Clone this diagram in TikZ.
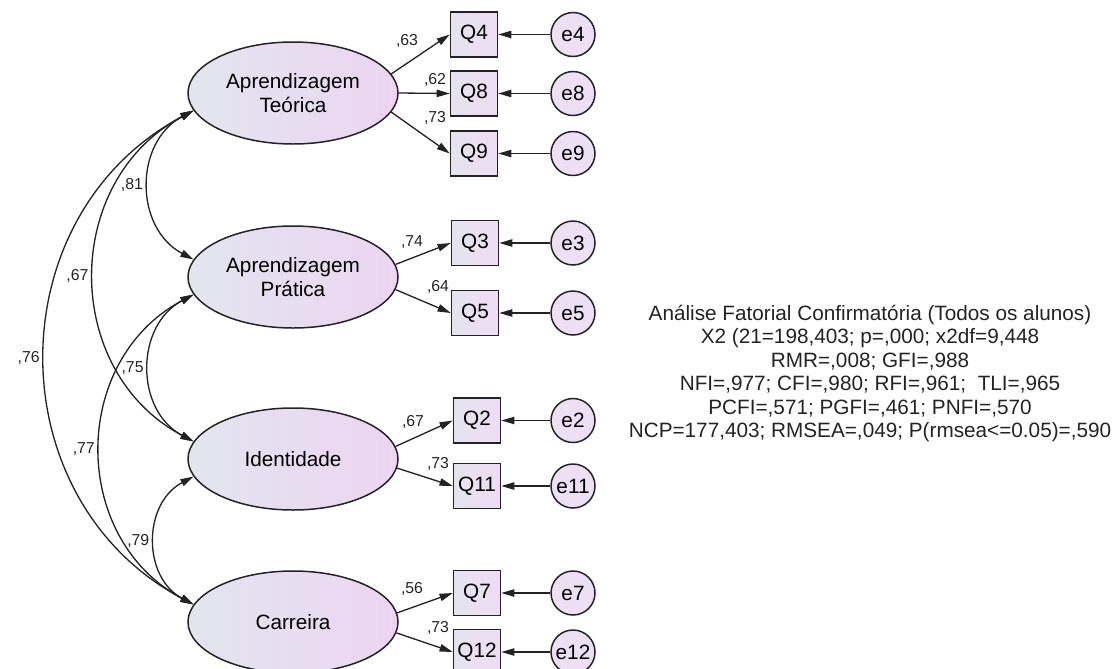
\documentclass[tikz,border=0pt]{standalone}
\usepackage{fontspec}
\setmainfont{Liberation Sans}
\usepackage{tikz}
\usetikzlibrary{arrows.meta}
\usetikzlibrary{shapes.geometric}
\definecolor{facleft}{RGB}{226,229,238}
\definecolor{facright}{RGB}{236,213,242}
\definecolor{itemleft}{RGB}{229,227,238}
\definecolor{itemright}{RGB}{238,221,243}
\definecolor{errfill}{RGB}{238,224,244}
\definecolor{edge}{RGB}{35,35,35}
\tikzset{
  factor/.style={ellipse, draw=edge, line width=0.85pt, left color=facleft, right color=facright,
    minimum width=4.2cm, minimum height=2.04cm, inner sep=0pt, align=center,
    font=\fontsize{11.8}{13.2}\selectfont},
  item/.style={rectangle, draw=edge, line width=0.85pt, left color=itemleft, right color=itemright,
    minimum width=0.94cm, minimum height=0.9cm, inner sep=0pt, font=\fontsize{11.8}{13.2}\selectfont},
  err/.style={circle, draw=edge, line width=0.85pt, fill=errfill, minimum size=0.88cm, inner sep=0pt,
    font=\fontsize{11.8}{13.2}\selectfont},
  load/.style={->, line width=0.75pt, draw=edge},
  cov/.style={<->, line width=0.75pt, draw=edge, bend right=62, looseness=1.16},
  lbl/.style={font=\fontsize{9}{10}\selectfont, inner sep=1pt, text=edge}
}

\begin{document}
\begin{tikzpicture}[>={Triangle[length=7.5pt,width=4.2pt]}]
\useasboundingbox (0,0) rectangle (22.32,-13.36);

% latent factors
\node[factor] (AT) at (5.86,-1.86) {Aprendizagem\\Teórica};
\node[factor] (AP) at (5.86,-5.54) {Aprendizagem\\Prática};
\node[factor] (ID) at (5.86,-9.18) {Identidade};
\node[factor] (CA) at (5.86,-12.44) {Carreira};

% observed items
\node[item] (Q4) at (9.48,-0.69) {Q4};
\node[item] (Q8) at (9.48,-1.87) {Q8};
\node[item] (Q9) at (9.48,-3.07) {Q9};
\node[item] (Q3) at (9.50,-4.86) {Q3};
\node[item] (Q5) at (9.50,-6.26) {Q5};
\node[item] (Q2) at (9.54,-8.41) {Q2};
\node[item] (Q11) at (9.54,-9.72) {Q11};
\node[item] (Q7) at (9.54,-11.86) {Q7};
\node[item] (Q12) at (9.54,-13.04) {Q12};

% error terms
\foreach \q/\e in {Q4/e4,Q8/e8,Q9/e9,Q3/e3,Q5/e5,Q2/e2,Q11/e11,Q7/e7,Q12/e12} {
  \node[err] (\e) at (11.46,0 |- \q) {\e};
  \draw[load] (\e) -- (\q);
}

% loadings
\draw[load] (AT.11) -- (Q4.west);
\draw[load] (AT.east) -- (Q8.west);
\draw[load] (AT.-11) -- (Q9.west);
\draw[load] (AP.7) -- (Q3.west);
\draw[load] (AP.-7) -- (Q5.west);
\draw[load] (ID.7) -- (Q2.west);
\draw[load] (ID.-5) -- (Q11.west);
\draw[load] (CA.5) -- (Q7.west);
\draw[load] (CA.-6) -- (Q12.west);

\node[lbl] (l4) at (8.14,-0.82) {,63};
\node[lbl] (l8) at (8.70,-1.60) {,62};
\node[lbl] (l9) at (8.70,-2.36) {,73};
\node[lbl] (l3) at (8.24,-4.84) {,74};
\node[lbl] (l5) at (8.76,-5.74) {,64};
\node[lbl] (l2) at (8.26,-8.44) {,67};
\node[lbl] (l11) at (8.76,-9.28) {,73};
\node[lbl] (l7) at (8.24,-11.78) {,56};
\node[lbl] (l12) at (8.76,-12.56) {,73};

% covariances
\draw[cov] (AT.190) to node[lbl, midway, left=2pt] (c1) {,81} (AP.170);
\draw[cov] (AT.190) to node[lbl, midway, left=2pt] (c2) {,67} (ID.170);
\draw[cov] (AT.190) to node[lbl, midway, left=2pt] (c3) {,76} (CA.170);
\draw[cov] (AP.190) to node[lbl, midway, left=2pt] (c4) {,75} (ID.170);
\draw[cov] (AP.190) to node[lbl, midway, left=2pt] (c5) {,77} (CA.170);
\draw[cov] (ID.190) to node[lbl, midway, left=2pt] (c6) {,79} (CA.170);

% fit indices
\node[align=center, font=\fontsize{11.8}{13.4}\selectfont, text=edge] (fit) at (17.40,-7.47)
  {Análise Fatorial Confirmatória (Todos os alunos)\\
   X2 (21=198,403; p=,000; x2df=9,448\\
   RMR=,008; GFI=,988\\
   NFI=,977; CFI=,980; RFI=,961;\ \ TLI=,965\\
   PCFI=,571; PGFI=,461; PNFI=,570\\
   NCP=177,403; RMSEA=,049; P(rmsea<=0.05)=,590};
\end{tikzpicture}
\end{document}
